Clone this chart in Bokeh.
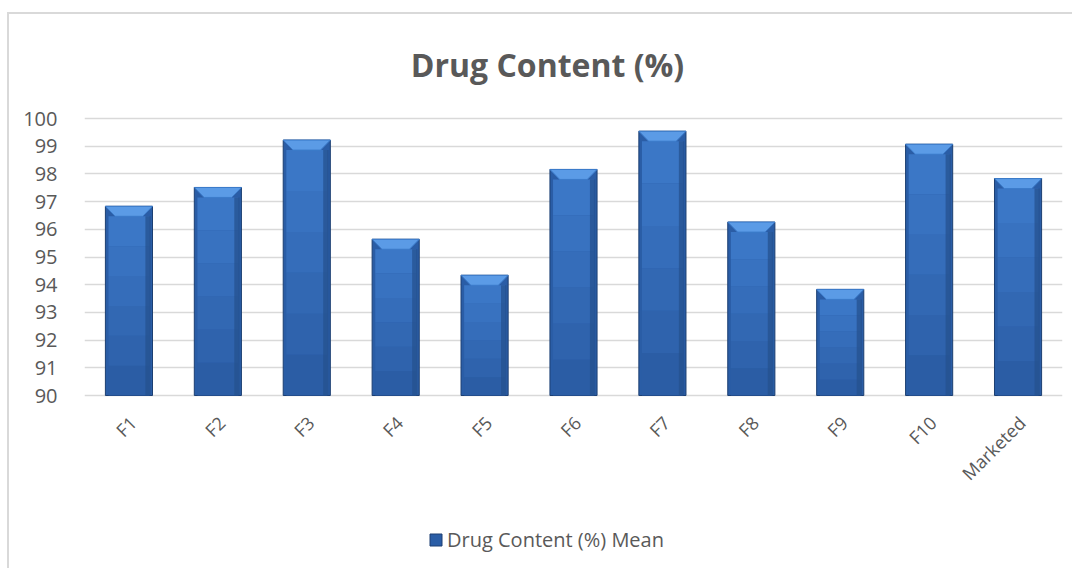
from bokeh.plotting import figure
from bokeh.models import Range1d, FixedTicker, Legend, LegendItem, ColumnDataSource
from bokeh.core.properties import value
from bokeh.embed import file_html
from bokeh.resources import INLINE
import math

categories = ["F1", "F2", "F3", "F4", "F5", "F6", "F7", "F8", "F9", "F10", "Marketed"]
drug_content_mean = [96.83, 97.51, 99.22, 95.64, 94.34, 98.16, 99.54, 96.26, 93.83, 99.07, 97.83]
y_ticks = [90, 91, 92, 93, 94, 95, 96, 97, 98, 99, 100]
series_name = "Drug Content (%) Mean"
title_text = "Drug Content (%)"

FONT = "Open Sans"
GREY = "#595959"

xpos = list(range(len(categories)))
W = 0.53
BEV_Y = 0.36
BEV_X = 0.11

# layout: frame spans the whole inner height; the value axis keeps 27.7 px per unit
PX = 27.7
FRAME_H = 554
Y_TOP = 100 + 104 / PX
Y_BOT = 90 - 173 / PX

p = figure(frame_width=978, frame_height=FRAME_H, output_backend="svg", toolbar_location=None,
           x_range=Range1d(-0.5, len(categories) - 0.5), y_range=Range1d(Y_BOT, Y_TOP),
           min_border_left=75, min_border_right=10, min_border_top=0, min_border_bottom=0,
           margin=(12, 0, 0, 7))
p.styles = {"border-top": "2px solid #d9d9d9", "border-left": "2px solid #d9d9d9"}

p.outline_line_color = None
p.background_fill_color = "white"
p.border_fill_color = "white"

# title (real text)
p.text(x=[(len(categories) - 1) / 2], y=[100 + 54 / PX], text=[title_text],
       text_font=value(FONT), text_font_size="32px", text_font_style="bold",
       text_color=GREY, text_align="center", text_baseline="middle", x_offset=-26)

src = ColumnDataSource(dict(x=xpos, top=drug_content_mean))
main = p.vbar(x="x", top="top", bottom=90, width=W, source=src,
              fill_color="#2A5DA6", line_color="#1C3F72", line_width=1)

# vertical shading of the bar body (darker at the bottom, lighter at the top)
N = 6
shade = ["#2B5DA5", "#2F63AD", "#3268B3", "#356DBA", "#3872C0", "#3B77C6"]
for k in range(N):
    b = [90 + (v - BEV_Y - 90) * k / N for v in drug_content_mean]
    t = [90 + (v - BEV_Y - 90) * (k + 1) / N for v in drug_content_mean]
    p.vbar(x=xpos, top=t, bottom=b, width=W - 0.07, fill_color=shade[k], line_color=None)
p.vbar(x=[x + W / 2 - 0.05 for x in xpos], top=[v - BEV_Y for v in drug_content_mean], bottom=90,
       width=0.06, fill_color="#26528F", fill_alpha=0.75, line_color=None)

bev_xs = [[x - W / 2, x + W / 2, x + W / 2 - BEV_X, x - W / 2 + BEV_X] for x in xpos]
bev_ys = [[v, v, v - BEV_Y, v - BEV_Y] for v in drug_content_mean]
p.patches(bev_xs, bev_ys, fill_color="#5B9BE6", line_color="#3C7CCB", line_width=1)

# category labels, rotated like the reference
p.text(x=xpos, y=[90] * len(xpos), text=categories, angle=math.pi / 4,
       text_font=value(FONT), text_font_size="18px", text_color=GREY,
       text_align="right", text_baseline="middle", x_offset=4, y_offset=24)

p.xgrid.grid_line_color = None
p.ygrid.grid_line_color = "#d9d9d9"
p.ygrid.grid_line_width = 1.5
p.ygrid.level = "underlay"

p.yaxis.ticker = FixedTicker(ticks=y_ticks)
p.yaxis.axis_line_color = None
p.yaxis.major_tick_line_color = None
p.yaxis.minor_tick_line_color = None
p.yaxis.major_label_text_font = FONT
p.yaxis.major_label_text_font_size = "20px"
p.yaxis.major_label_text_color = GREY
p.yaxis.major_label_standoff = 21

p.xaxis.visible = False

legend = Legend(items=[LegendItem(label=series_name, renderers=[main])],
                orientation="horizontal", location=(344, 15),
                border_line_color=None, background_fill_alpha=0,
                label_text_font=FONT, label_text_font_size="20px", label_text_color=GREY,
                glyph_width=15, glyph_height=15, label_standoff=4, margin=0, padding=0)
p.add_layout(legend, "center")

open("out.html", "w").write(file_html(p, INLINE))
